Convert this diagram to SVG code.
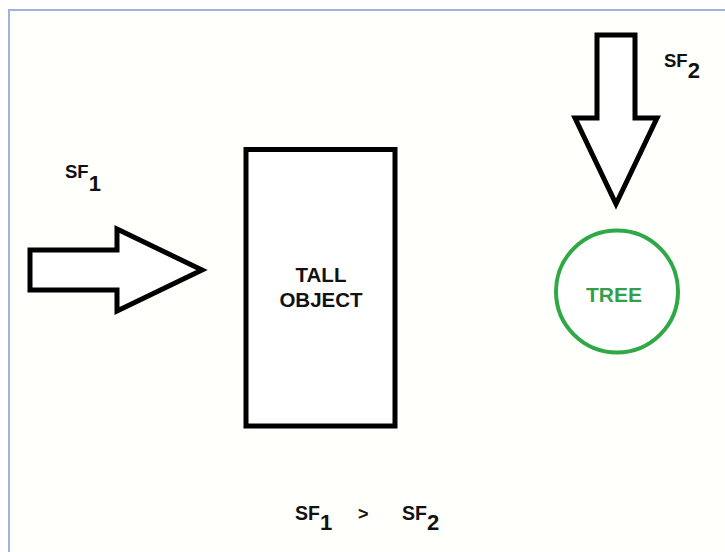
<svg xmlns="http://www.w3.org/2000/svg" width="725" height="552" viewBox="0 0 725 552">
<style>
.shape{fill:#ffffff;stroke:#000000;stroke-width:5;stroke-linejoin:miter}
.lbl{font-family:"Liberation Sans",Arial,sans-serif;font-weight:bold;fill:#111111}
</style>
<rect x="0" y="0" width="725" height="552" fill="#ffffff"/>
<rect x="9" y="10" width="720" height="550" fill="#fffffc"/>
<line x1="9" y1="10" x2="725" y2="10" stroke="#a3b1de" stroke-width="2"/>
<line x1="9" y1="9" x2="9" y2="552" stroke="#a3b1de" stroke-width="2"/>
<g id="connectors">
<g id="arrow-sf1">
<polygon class="shape" points="30,250 117,250 117,229 202,270 117,311 117,290 30,290"/>
</g>
<g id="arrow-sf2">
<polygon class="shape" points="597,35 635,35 635,118 657,118 616,204 575,118 597,118"/>
</g>
</g>
<g id="label-sf1">
<text class="lbl" x="65" y="178" font-size="18.5">SF<tspan font-size="22" dy="13">1</tspan></text>
</g>
<g id="label-sf2">
<text class="lbl" x="664" y="67" font-size="18.5">SF<tspan font-size="22" dy="11">2</tspan></text>
</g>
<g id="tall-object">
<rect class="shape" x="246" y="149.5" width="149" height="276.5"/>
<text class="lbl" x="321" y="282" font-size="20.5" text-anchor="middle">TALL</text>
<text class="lbl" x="321" y="307" font-size="20.5" text-anchor="middle">OBJECT</text>
</g>
<g id="tree">
<circle cx="617" cy="291.5" r="61" fill="#ffffff" stroke="#2fa846" stroke-width="4"/>
<text x="614" y="302" font-family="&quot;Liberation Sans&quot;,Arial,sans-serif" font-weight="bold" font-size="21" text-anchor="middle" fill="#33a049">TREE</text>
</g>
<g id="comparison">
<text class="lbl" x="295" y="520" font-size="19.5">SF<tspan font-size="22" dy="10">1</tspan></text>
<text class="lbl" x="358" y="520" font-size="18">&gt;</text>
<text class="lbl" x="402" y="520" font-size="19.5">SF<tspan font-size="22" dy="10">2</tspan></text>
</g>
</svg>
